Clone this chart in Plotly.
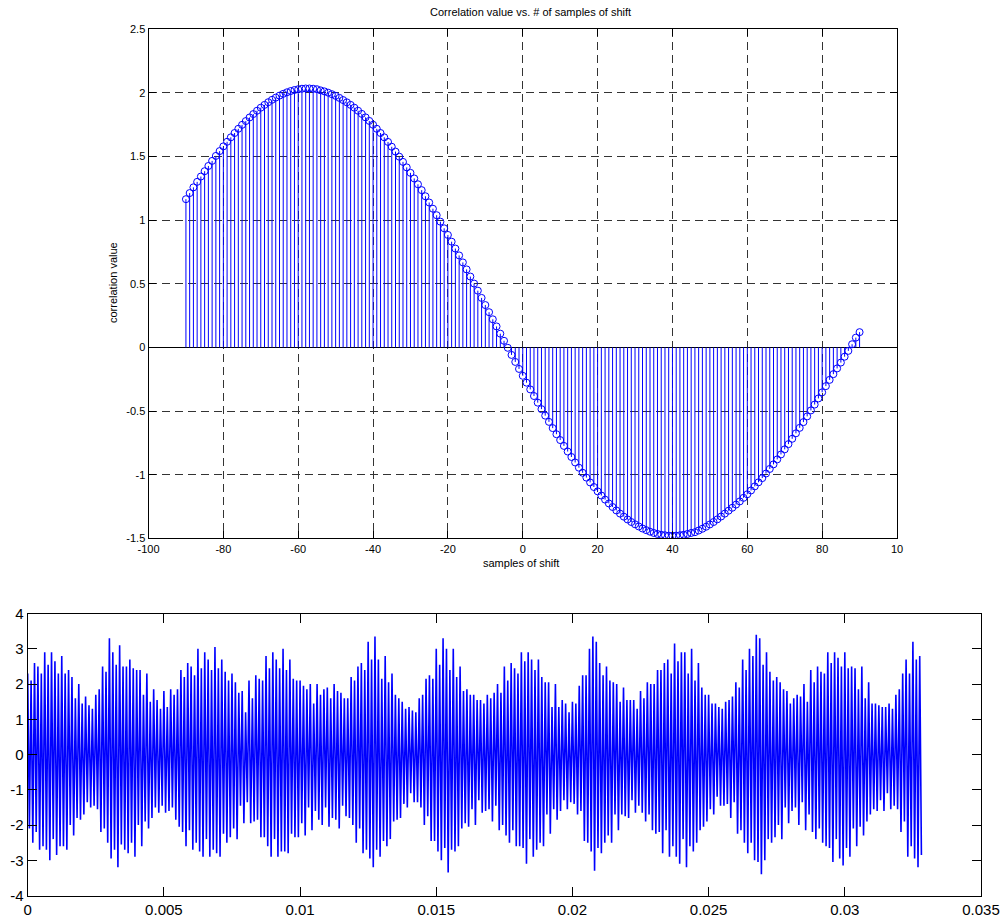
import plotly.graph_objects as go

# ---------------- data ----------------
shift_start = -90          # first shift (samples)
corr_values = [
    1.165, 1.213, 1.258, 1.301, 1.343, 1.385, 1.426, 1.466, 1.505, 1.543,
    1.580, 1.616, 1.651, 1.685, 1.718, 1.749, 1.779, 1.807, 1.834, 1.860,
    1.884, 1.906, 1.927, 1.946, 1.963, 1.979, 1.993, 2.005, 2.015, 2.023,
    2.029, 2.033, 2.035, 2.035, 2.033, 2.029,
    2.020, 2.012, 2.002, 1.990, 1.977, 1.961, 1.944, 1.926, 1.906, 1.884,
    1.860, 1.835, 1.808, 1.780, 1.750, 1.718, 1.685, 1.651, 1.615, 1.577,
    1.539, 1.499, 1.458, 1.415, 1.372, 1.328, 1.282, 1.236, 1.188, 1.139,
    1.090, 1.039, 0.988, 0.936, 0.884, 0.831, 0.777, 0.723, 0.668, 0.613,
    0.557, 0.502, 0.446, 0.389, 0.333, 0.277, 0.221, 0.165, 0.108, 0.052,
    -0.003, -0.059, -0.114, -0.169, -0.223, -0.277, -0.330, -0.382, -0.434, -0.485,
    -0.536, -0.585, -0.634, -0.682, -0.728, -0.774, -0.818, -0.861, -0.904, -0.945,
    -0.985, -1.023, -1.061, -1.097, -1.131, -1.164, -1.196, -1.226, -1.254, -1.281,
    -1.306, -1.330, -1.352, -1.372, -1.390, -1.407, -1.423, -1.436, -1.448, -1.458,
    -1.466, -1.472, -1.476, -1.479, -1.480, -1.479, -1.476, -1.472, -1.466, -1.458,
    -1.452, -1.439, -1.425, -1.409, -1.391, -1.372, -1.351, -1.329, -1.306, -1.283,
    -1.260, -1.235, -1.210, -1.182, -1.154, -1.124, -1.092, -1.060, -1.027, -0.991,
    -0.955, -0.919, -0.880, -0.841, -0.801, -0.760, -0.718, -0.675, -0.632, -0.587,
    -0.542, -0.495, -0.449, -0.401, -0.353, -0.304, -0.255, -0.210, -0.165, -0.119,
    -0.073, -0.027, 0.025, 0.077, 0.120,
]

top_xtick_vals = [-100, -80, -60, -40, -20, 0, 20, 40, 60, 80, 100]
top_xtick_text = ["-100", "-80", "-60", "-40", "-20", "0", "20", "40", "60", "80", "10"]
top_ytick_vals = [-1.5, -1, -0.5, 0, 0.5, 1, 1.5, 2, 2.5]
top_ytick_text = ["-1.5", "-1", "-0.5", "0", "0.5", "1", "1.5", "2", "2.5"]

sample_rate = 16000.0
signal = [
    2.3, -2.1, 2.1, -2.5, 2.6, -2.2, 2.5, -2.7, 2.3, -2.6,
    2.9, -2.7, 2.55, -3.0, 2.9, -2.4, 2.65, -2.85, 2.3, -2.6,
    2.8, -2.6, 2.3, -2.7, 2.4, -2.0, 2.2, -2.3, 1.6, -1.8,
    2.0, -1.85, 1.45, -1.7, 1.65, -1.35, 1.4, -1.5, 1.3, -1.45,
    1.7, -1.55, 1.85, -2.2, 2.5, -2.1, 2.35, -2.5, 3.3, -2.95,
    2.9, -2.7, 2.55, -3.2, 3.1, -2.55, 2.5, -2.7, 2.5, -2.8,
    2.7, -2.5, 2.45, -2.9, 2.4, -2.0, 2.4, -2.6, 1.7, -1.9,
    2.3, -2.1, 1.5, -1.8, 1.85, -1.5, 1.55, -1.65, 1.3, -1.45,
    1.8, -1.65, 1.35, -1.6, 1.85, -1.5, 1.7, -1.85, 1.85, -2.05,
    2.4, -2.2, 2.2, -2.6, 2.6, -2.15, 2.5, -2.7, 2.25, -2.5,
    3.0, -2.75, 2.45, -2.9, 2.9, -2.4, 2.7, -2.9, 2.4, -2.7,
    3.05, -2.8, 2.45, -2.9, 2.7, -2.25, 2.35, -2.5, 2.1, -2.35,
    2.3, -2.1, 2.05, -2.4, 1.75, -1.45, 1.8, -1.95, 1.2, -1.35,
    2.1, -1.95, 1.6, -1.9, 2.25, -1.85, 2.15, -2.35, 2.1, -2.35,
    2.8, -2.6, 2.45, -2.9, 2.9, -2.4, 2.7, -2.9, 2.45, -2.75,
    3.0, -2.75, 2.4, -2.8, 2.7, -2.25, 2.15, -2.35, 2.1, -2.35,
    2.1, -1.95, 1.95, -2.3, 1.85, -1.5, 2.0, -2.15, 1.45, -1.6,
    2.0, -1.85, 1.7, -2.0, 1.85, -1.5, 1.9, -2.05, 1.6, -1.8,
    2.0, -1.85, 1.8, -2.1, 1.75, -1.45, 1.6, -1.75, 1.6, -1.8,
    2.2, -2.0, 2.1, -2.5, 2.5, -2.1, 2.6, -2.8, 2.4, -2.7,
    3.2, -2.95, 2.7, -3.2, 3.35, -2.7, 2.7, -2.9, 2.15, -2.45,
    2.8, -2.6, 2.05, -2.4, 2.3, -1.9, 1.7, -1.85, 1.6, -1.8,
    1.5, -1.4, 1.3, -1.5, 1.35, -1.1, 1.25, -1.35, 1.2, -1.35,
    1.6, -1.5, 1.7, -2.0, 2.15, -1.75, 2.25, -2.45, 2.15, -2.45,
    3.0, -2.75, 2.55, -3.0, 3.3, -2.65, 3.0, -3.35, 2.4, -2.7,
    3.0, -2.75, 2.2, -2.6, 2.5, -2.1, 1.8, -1.95, 1.85, -2.05,
    1.7, -1.55, 1.7, -2.0, 1.55, -1.3, 1.55, -1.65, 1.45, -1.6,
    1.7, -1.55, 1.6, -1.9, 1.75, -1.45, 2.0, -2.15, 1.75, -2.0,
    2.5, -2.3, 2.1, -2.5, 2.6, -2.15, 2.45, -2.6, 2.3, -2.6,
    2.9, -2.65, 2.65, -3.1, 2.9, -2.4, 2.7, -2.9, 2.4, -2.7,
    2.7, -2.5, 2.2, -2.6, 2.05, -1.7, 2.05, -2.25, 1.35, -1.55,
    2.0, -1.85, 1.35, -1.6, 1.55, -1.3, 1.45, -1.55, 1.2, -1.35,
    1.5, -1.4, 1.45, -1.7, 1.95, -1.6, 2.25, -2.45, 2.25, -2.5,
    3.0, -2.75, 3.35, -3.3, 3.2, -2.65, 2.6, -2.8, 2.25, -2.5,
    2.5, -2.3, 2.1, -2.5, 2.05, -1.7, 2.0, -2.15, 1.5, -1.7,
    1.9, -1.75, 1.55, -1.8, 1.55, -1.3, 1.55, -1.65, 1.3, -1.45,
    1.8, -1.65, 1.6, -1.9, 2.05, -1.7, 2.0, -2.15, 2.0, -2.25,
    2.4, -2.2, 2.4, -2.8, 2.6, -2.15, 2.7, -2.9, 2.3, -2.6,
    3.15, -2.9, 2.65, -3.1, 2.9, -2.4, 2.9, -3.2, 2.3, -2.6,
    3.0, -2.75, 2.1, -2.5, 2.6, -2.15, 1.9, -2.05, 1.7, -1.9,
    1.7, -1.55, 1.45, -1.7, 1.45, -1.2, 1.35, -1.45, 1.3, -1.45,
    1.5, -1.4, 1.55, -1.8, 1.65, -1.35, 2.05, -2.25, 1.9, -2.15,
    2.7, -2.5, 2.4, -2.8, 3.0, -2.5, 2.8, -3.0, 3.4, -3.05,
    3.3, -3.4, 2.55, -3.0, 2.9, -2.4, 2.35, -2.5, 2.1, -2.35,
    2.2, -2.0, 2.05, -2.4, 1.85, -1.5, 1.8, -1.95, 1.45, -1.6,
    1.6, -1.5, 1.7, -2.0, 1.65, -1.35, 2.0, -2.15, 1.5, -1.7,
    2.4, -2.2, 2.05, -2.4, 2.5, -2.1, 2.35, -2.5, 2.3, -2.6,
    2.9, -2.65, 2.6, -3.05, 2.9, -2.4, 2.75, -2.95, 2.5, -3.15,
    2.9, -2.65, 2.45, -2.9, 2.5, -2.1, 2.45, -2.6, 1.85, -2.05,
    2.5, -2.3, 1.6, -1.9, 2.05, -1.7, 1.45, -1.55, 1.45, -1.6,
    1.4, -1.3, 1.35, -1.6, 1.35, -1.1, 1.45, -1.55, 1.3, -1.45,
    1.7, -1.55, 1.85, -2.2, 2.3, -1.9, 2.7, -2.9, 2.3, -2.6,
    3.2, -2.95, 2.7, -3.2, 2.8, -2.85,
]

bot_xtick_vals = [0, 0.005, 0.01, 0.015, 0.02, 0.025, 0.03, 0.035]
bot_xtick_text = ["0", "0.005", "0.01", "0.015", "0.02", "0.025", "0.03", "0.035"]
bot_ytick_vals = [-4, -3, -2, -1, 0, 1, 2, 3, 4]
bot_ytick_text = ["-4", "-3", "-2", "-1", "0", "1", "2", "3", "4"]

# ---------------- figure ----------------
W, H = 1005, 917
BLUE = "#0000ff"
FONT = "Liberation Sans, Arial, Helvetica, sans-serif"

shifts = [shift_start + i for i in range(len(corr_values))]
stem_x, stem_y = [], []
for xv, yv in zip(shifts, corr_values):
    stem_x += [xv, xv, None]
    stem_y += [0, yv, None]

fig = go.Figure()
fig.add_trace(go.Scatter(x=stem_x, y=stem_y, mode="lines",
                         line=dict(color=BLUE, width=1),
                         xaxis="x", yaxis="y", hoverinfo="skip"))
fig.add_trace(go.Scatter(x=shifts, y=corr_values, mode="markers",
                         marker=dict(symbol="circle-open", size=7, color=BLUE,
                                     line=dict(width=1, color=BLUE)),
                         xaxis="x", yaxis="y"))
fig.add_trace(go.Scatter(x0=0, dx=1.0 / sample_rate, y=signal, mode="lines",
                         line=dict(color=BLUE, width=1.6),
                         xaxis="x2", yaxis="y2"))


def px_x(p):
    return p / W


def px_y(p):
    return 1 - p / H


def axis_style(size, ticklen):
    return dict(showline=True, linecolor="black", linewidth=1, mirror="ticks",
                ticks="inside", tickcolor="black", tickwidth=1, ticklen=ticklen,
                automargin=False,
                tickfont=dict(family=FONT, color="black", size=size))


GRID = dict(showgrid=True, gridcolor="#333333", gridwidth=1, griddash="8px,5px")

fig.update_layout(
    width=W, height=H,
    margin=dict(l=0, r=0, t=0, b=0, pad=0, autoexpand=False),
    paper_bgcolor="white", plot_bgcolor="white",
    showlegend=False,
    font=dict(family=FONT, color="black"),
    xaxis=dict(domain=[px_x(148.5), px_x(897)], range=[-100, 100], anchor="y",
               tickmode="array", tickvals=top_xtick_vals, ticktext=top_xtick_text,
               zeroline=False, **GRID, **axis_style(11, 7)),
    yaxis=dict(domain=[px_y(538.3), px_y(29.3)], range=[-1.5, 2.5], anchor="x",
               tickmode="array", tickvals=top_ytick_vals, ticktext=top_ytick_text,
               zeroline=True, zerolinecolor="black", zerolinewidth=1,
               **GRID, **axis_style(11, 7)),
    xaxis2=dict(domain=[px_x(27.7), px_x(981)], range=[0, 0.035], anchor="y2",
                tickmode="array", tickvals=bot_xtick_vals, ticktext=bot_xtick_text,
                showgrid=False, zeroline=False, **axis_style(15, 9)),
    yaxis2=dict(domain=[px_y(895.5), px_y(613.6)], range=[-4, 4], anchor="x2",
                tickmode="array", tickvals=bot_ytick_vals, ticktext=bot_ytick_text,
                showgrid=False, zeroline=False, **axis_style(15, 9)),
    annotations=[
        dict(text="Correlation value vs. # of samples of shift", x=px_x(530), y=px_y(12),
             xref="paper", yref="paper", xanchor="center", yanchor="middle",
             showarrow=False, font=dict(family=FONT, size=11, color="black")),
        dict(text="samples of shift", x=px_x(521), y=px_y(563),
             xref="paper", yref="paper", xanchor="center", yanchor="middle",
             showarrow=False, font=dict(family=FONT, size=11, color="black")),
        dict(text="correlation value", x=px_x(113), y=px_y(283), textangle=-90,
             xref="paper", yref="paper", xanchor="center", yanchor="middle",
             showarrow=False, font=dict(family=FONT, size=11, color="black")),
    ],
)

fig.write_html(
    "out.html",
    config={"displayModeBar": False},
    post_script="document.body.style.margin='0';document.body.style.padding='0';"
                "document.body.style.overflow='hidden';",
)
